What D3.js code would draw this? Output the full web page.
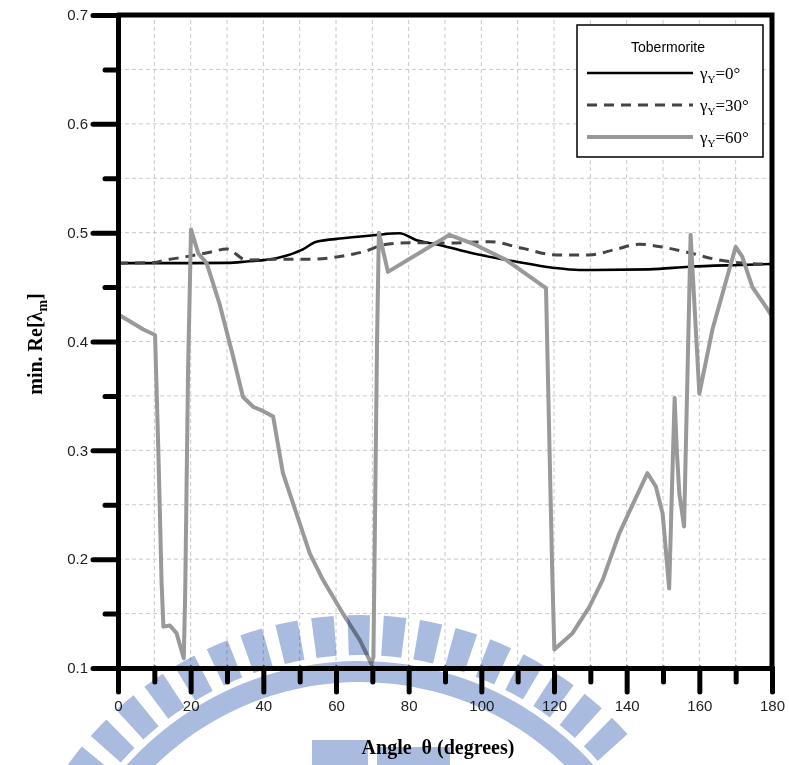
<!DOCTYPE html>
<html>
<head>
<meta charset="utf-8">
<script src="https://cdn.jsdelivr.net/npm/d3@7"></script>
<style>
  body { margin: 0; background: #fff; }
  svg { display: block; }
</style>
</head>
<body>
<div class="canvas"></div>
<script>
// tick labels
const xTicks = [0, 20, 40, 60, 80, 100, 120, 140, 160, 180]
const yTicks = [0.1, 0.2, 0.3, 0.4, 0.5, 0.6, 0.7]
const seriesNames = ["0", "30", "60"]

// gamma_Y = 0
const angle0 = [0, 10, 20, 30, 35.4, 43.6, 50.9, 54.6, 61.9, 71, 77.5, 82, 88.5, 97.6, 109.6, 119.6, 127, 146.2, 157.2, 171, 180]
const value0 = [0.472, 0.472, 0.472, 0.4722, 0.4735, 0.4765, 0.4847, 0.4917, 0.4948, 0.4979, 0.4994, 0.4933, 0.4887, 0.481, 0.4733, 0.4678, 0.4657, 0.4663, 0.4687, 0.4703, 0.4712]

// gamma_Y = 30
const angle30 = [0, 10, 12.4, 18.9, 25.3, 29.9, 35.4, 43.6, 52.8, 61.9, 68.3, 72.9, 80.2, 91.2, 102.2, 111.3, 120.5, 129.7, 137, 143.5, 150.8, 157.2, 164.5, 171, 180]
const value30 = [0.472, 0.4725, 0.4743, 0.478, 0.482, 0.485, 0.4749, 0.4755, 0.4755, 0.4786, 0.4832, 0.4887, 0.4908, 0.4905, 0.4917, 0.4857, 0.4795, 0.4795, 0.4847, 0.4893, 0.4862, 0.4816, 0.4755, 0.4724, 0.471]

// gamma_Y = 60
const angle60 = [0, 7, 10.2, 11.1, 12, 12.5, 14.3, 16.1, 18.1, 18.5, 19.3, 20.1, 22.1, 24.4, 28, 31.7, 34.4, 37.2, 40, 42.7, 45.4, 49.1, 52.8, 56.4, 61.9, 66.5, 69.7, 70.3, 71.3, 71.8, 74.3, 91.2, 97.6, 106.8, 117.8, 119.5, 120.1, 125.1, 129.7, 133.4, 138, 145.7, 148, 149.9, 151.7, 152.6, 153.2, 153.8, 154.5, 155.8, 157.6, 160, 163.6, 170, 171.8, 174.6, 178.3, 180]
const value60 = [0.425, 0.411, 0.406, 0.300, 0.178, 0.138, 0.139, 0.132, 0.109, 0.17, 0.377, 0.503, 0.481, 0.472, 0.434, 0.386, 0.349, 0.340, 0.336, 0.331, 0.279, 0.242, 0.205, 0.181, 0.150, 0.126, 0.104, 0.11, 0.40, 0.500, 0.464, 0.498, 0.490, 0.475, 0.449, 0.19, 0.117, 0.132, 0.156, 0.181, 0.224, 0.279, 0.267, 0.242, 0.173, 0.28, 0.348, 0.30, 0.26, 0.230, 0.498, 0.352, 0.411, 0.487, 0.478, 0.450, 0.432, 0.423]

const width = 789
const height = 765
const margin = { top: 15, right: 17, bottom: 97, left: 118 }

const svg = d3.select(".canvas").append("svg")
    .attr("width", width)
    .attr("height", height)

const x = d3.scaleLinear()
    .domain([0, 180])
    .range([margin.left, width - margin.right])
const y = d3.scaleLinear()
    .domain([0.1, 0.7])
    .range([height - margin.bottom, margin.top])

// grid
const grid = svg.append("g")
    .attr("stroke", "#c8c8c8")
    .attr("stroke-width", 1)
    .attr("stroke-dasharray", "4,3")
grid.selectAll(".gx")
    .data(d3.range(10, 180, 10))
    .enter().append("line")
    .attr("x1", d => x(d)).attr("x2", d => x(d))
    .attr("y1", y(0.1)).attr("y2", y(0.7))
grid.selectAll(".gy")
    .data(d3.range(0.15, 0.7, 0.05))
    .enter().append("line")
    .attr("x1", x(0)).attr("x2", x(180))
    .attr("y1", d => y(d)).attr("y2", d => y(d))

// lines
const series = [
    { angles: angle0, values: value0, color: "#000", w: 2.6, dash: null, curve: d3.curveMonotoneX },
    { angles: angle30, values: value30, color: "#444", w: 3, dash: "10,7", curve: d3.curveMonotoneX },
    { angles: angle60, values: value60, color: "#999", w: 4, dash: null, curve: d3.curveLinear }
]

series.forEach(s => {
    const pts = s.angles.map((a, i) => [a, s.values[i]])
    const line = d3.line()
        .x(d => x(d[0]))
        .y(d => y(d[1]))
        .curve(s.curve)
    svg.append("path")
        .datum(pts)
        .attr("fill", "none")
        .attr("stroke", s.color)
        .attr("stroke-width", s.w)
        .attr("stroke-dasharray", s.dash)
        .attr("stroke-linejoin", "round")
        .attr("d", line)
})

// axes
svg.append("g")
    .attr("transform", `translate(${x(0)},0)`)
    .call(d3.axisLeft(y).tickValues(yTicks).tickSize(25).tickSizeOuter(0).tickPadding(5).tickFormat(d3.format(".1f")))
svg.append("g")
    .attr("transform", `translate(${x(0)},0)`)
    .call(d3.axisLeft(y).tickValues(d3.range(0.15, 0.7, 0.1)).tickSize(13).tickSizeOuter(0).tickFormat(""))
svg.append("g")
    .attr("transform", `translate(0,${y(0.1)})`)
    .call(d3.axisBottom(x).tickValues(xTicks).tickSize(24).tickSizeOuter(0).tickPadding(8))
svg.append("g")
    .attr("transform", `translate(0,${y(0.1)})`)
    .call(d3.axisBottom(x).tickValues(d3.range(10, 180, 20)).tickSize(14).tickSizeOuter(0).tickFormat(""))

svg.selectAll(".domain")
    .attr("stroke", "#000")
    .attr("stroke-width", 5)
    .attr("stroke-linecap", "round")
svg.selectAll(".tick line")
    .attr("stroke", "#000")
    .attr("stroke-width", 5)
    .attr("stroke-linecap", "round")
svg.selectAll(".tick text")
    .attr("fill", "#222")
    .style("font-family", "'Liberation Sans', Arial, sans-serif")
    .style("font-size", "15px")

// top and right frame
svg.append("path")
    .attr("d", `M${x(0)},${y(0.7)}H${x(180)}V${y(0.1)}`)
    .attr("fill", "none")
    .attr("stroke", "#000")
    .attr("stroke-width", 5)
    .attr("stroke-linecap", "round")

// axis titles
svg.append("text")
    .attr("x", 438)
    .attr("y", 754)
    .attr("text-anchor", "middle")
    .style("font-family", "'Liberation Serif', 'Times New Roman', serif")
    .style("font-weight", "bold")
    .style("font-size", "20px")
    .attr("xml:space", "preserve")
    .text("Angle  θ (degrees)")

const yTitle = svg.append("text")
    .attr("transform", "translate(42,344) rotate(-90)")
    .attr("text-anchor", "middle")
    .style("font-family", "'Liberation Serif', 'Times New Roman', serif")
    .style("font-weight", "bold")
    .style("font-size", "20px")
yTitle.append("tspan").text("min. Re[λ")
yTitle.append("tspan").attr("dy", 5).style("font-size", "14px").text("m")
yTitle.append("tspan").attr("dy", -5).text("]")

// legend
const legend = svg.append("g")
legend.append("rect")
    .attr("x", 577).attr("y", 25)
    .attr("width", 186).attr("height", 132)
    .attr("fill", "#fff")
    .attr("stroke", "#000")
    .attr("stroke-width", 1.5)
legend.append("text")
    .attr("x", 668).attr("y", 52)
    .attr("text-anchor", "middle")
    .style("font-family", "'Liberation Sans', Arial, sans-serif")
    .style("font-size", "14px")
    .text("Tobermorite")
series.forEach((s, i) => {
    const ly = 73 + i * 32
    legend.append("line")
        .attr("x1", 587).attr("x2", 693)
        .attr("y1", ly).attr("y2", ly)
        .attr("stroke", s.color)
        .attr("stroke-width", s.w)
        .attr("stroke-dasharray", s.dash)
    const t = legend.append("text")
        .attr("x", 700).attr("y", ly + 6)
        .style("font-family", "'Liberation Serif', 'Times New Roman', serif")
        .style("font-size", "17px")
    t.append("tspan").text("γ")
    t.append("tspan").attr("dy", 4).style("font-size", "11px").text("Y")
    t.append("tspan").attr("dy", -4).text("=" + seriesNames[i] + "°")
})

// watermark (logo), blended like a scan
const wmColor = "#a9bce0"
const wm = svg.append("g")
    .attr("transform", "translate(360,975)")
    .style("mix-blend-mode", "multiply")
    .attr("fill", wmColor)
const deg = Math.PI / 180
const arc = d3.arc()
d3.range(-64, 48, 5.8).forEach(a => {
    wm.append("path").attr("d", arc({
        innerRadius: 320, outerRadius: 360,
        startAngle: (a - 1.8) * deg, endAngle: (a + 1.8) * deg
    }))
})
wm.append("path").attr("d", arc({
    innerRadius: 293, outerRadius: 314,
    startAngle: -72 * deg, endAngle: 48 * deg
}))
svg.append("rect")
    .attr("x", 312).attr("y", 740).attr("width", 56).attr("height", 25)
    .attr("fill", wmColor).style("mix-blend-mode", "multiply")
svg.append("rect")
    .attr("x", 377).attr("y", 747).attr("width", 73).attr("height", 18)
    .attr("fill", wmColor).style("mix-blend-mode", "multiply")
</script>
</body>
</html>
